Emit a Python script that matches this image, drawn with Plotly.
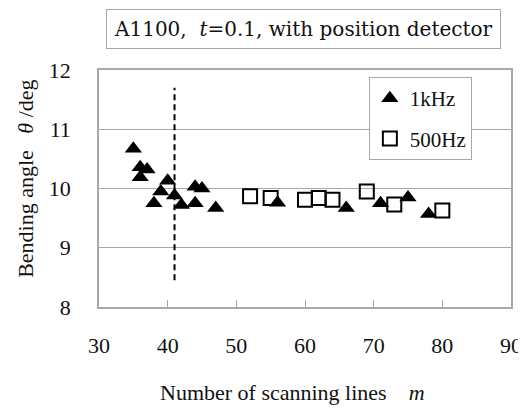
import plotly.graph_objects as go

# 1 kHz (filled triangles)
m_1k = [35, 36, 36, 37, 38, 39, 40, 41, 42, 44, 44, 45, 47, 56, 66, 71, 75, 78]
theta_1k = [10.67, 10.36, 10.19, 10.32, 9.75, 9.95, 10.13, 9.88, 9.72, 10.03, 9.75, 10.0, 9.67, 9.76, 9.67, 9.75, 9.85, 9.57]

# 500 Hz (open squares)
m_500 = [52, 55, 60, 62, 64, 69, 73, 80]
theta_500 = [9.87, 9.84, 9.81, 9.84, 9.81, 9.95, 9.73, 9.63]

# dashed marker line
dash_x = [41, 41]
dash_y = [8.45, 11.7]

x_ticks = [30, 40, 50, 60, 70, 80, 90]
y_ticks = [8, 9, 10, 11, 12]

FONT = "Liberation Serif"
GRAY = "#a8a8a8"

fig = go.Figure()
fig.add_trace(go.Scatter(
    x=dash_x, y=dash_y, mode="lines",
    line=dict(color="black", width=2, dash="6px,4px"),
    showlegend=False, hoverinfo="skip"))
fig.add_trace(go.Scatter(
    x=m_1k, y=theta_1k, mode="markers", name="1kHz", legendgroup="a",
    marker=dict(symbol="triangle-up", size=15, color="black")))
fig.add_trace(go.Scatter(
    x=m_500, y=theta_500, mode="markers", name="500Hz", legendgroup="b",
    marker=dict(symbol="square-open", size=14, color="black", line=dict(width=2, color="black"))))

# page body adds an 8px offset; size the figure to compensate
fig.update_layout(
    width=518, height=400,
    margin=dict(l=91, r=15, t=62, b=101, autoexpand=False),
    paper_bgcolor="white", plot_bgcolor="white",
    font=dict(family=FONT, color="#111", size=20),
    legend=dict(x=0.655, y=0.97, xanchor="left", yanchor="top",
                bordercolor=GRAY, borderwidth=1, bgcolor="white",
                font=dict(size=21, family=FONT), tracegroupgap=10,
                itemwidth=30),
    showlegend=True,
)
fig.update_xaxes(
    range=[30, 90], tickvals=x_ticks, ticktext=[str(v) for v in x_ticks],
    showgrid=False, zeroline=False, automargin=False,
    showline=True, linecolor=GRAY, linewidth=1.5, mirror=True,
    ticks="inside", ticklen=7, tickcolor=GRAY, tickwidth=1,
    tickfont=dict(size=22, family=FONT), ticklabelstandoff=18,
)
fig.update_yaxes(
    range=[8, 12], tickvals=y_ticks, ticktext=[str(v) for v in y_ticks],
    showgrid=True, gridcolor=GRAY, gridwidth=1.2, zeroline=False, automargin=False,
    showline=True, linecolor=GRAY, linewidth=1.5, mirror=True,
    ticks="", tickfont=dict(size=22, family=FONT), ticklabelstandoff=22,
)

fig.add_annotation(
    xref="paper", yref="paper", x=0.47, y=-0.36, xanchor="center", yanchor="middle",
    text="Number of scanning lines &nbsp;&nbsp;&nbsp;<i>m</i>", showarrow=False,
    font=dict(size=22, family=FONT))
fig.add_annotation(
    xref="paper", yref="paper", x=-0.18, y=0.54, xanchor="center", yanchor="middle",
    text="Bending angle &nbsp;&nbsp;<i>θ</i> /deg", textangle=-90, showarrow=False,
    font=dict(size=22, family=FONT))
fig.add_annotation(
    xref="paper", yref="paper", x=0.496, y=1.175, xanchor="center", yanchor="middle",
    text="A1100,&nbsp; <i>t</i>=0.1, with position detector", showarrow=False,
    bordercolor=GRAY, borderwidth=1, borderpad=7, bgcolor="white",
    font=dict(size=20, family="DejaVu Serif"))

fig.write_html("out.html")
